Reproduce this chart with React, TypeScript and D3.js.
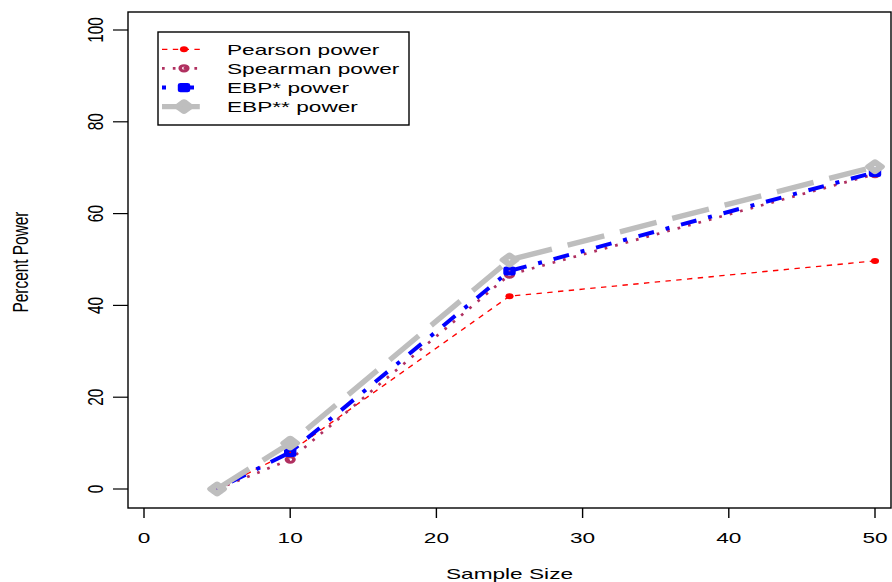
import React from "react";
import * as d3 from "d3";

const sampleSizes = [5, 10, 25, 50];
const pearson = [0, 8.1, 42.0, 49.7];
const spearman = [0, 6.4, 46.7, 68.6];
const ebpStar = [0, 8.0, 47.5, 69.0];
const ebpStarStar = [0, 10.0, 49.9, 70.2];

const xTicks = [0, 10, 20, 30, 40, 50];
const yTicks = [0, 20, 40, 60, 80, 100];
const legendLabels = ["Pearson power", "Spearman power", "EBP* power", "EBP** power"];

const W = 892;
const H = 582;
const SX = 1.47; // horizontal stretch of the reference
const FS = 15.4;
const FONT = "'Liberation Sans', Arial, Helvetica, sans-serif";

type Series = {
  name: string;
  values: number[];
  color: string;
  width: number;
  dash: string;
  marker: "dot" | "circle" | "square" | "diamond";
};

const series: Series[] = [
  { name: legendLabels[0], values: pearson, color: "#FF0000", width: 1.35, dash: "5.4,5.4", marker: "dot" },
  { name: legendLabels[1], values: spearman, color: "#B03060", width: 2.7, dash: "2.7,8.1", marker: "circle" },
  { name: legendLabels[2], values: ebpStar, color: "#0000FF", width: 4, dash: "4,12,16,12", marker: "square" },
  { name: legendLabels[3], values: ebpStarStar, color: "#BEBEBE", width: 5.4, dash: "37.8,16.2", marker: "diamond" },
];

function Marker({ s, x, y }: { s: Series; x: number; y: number }) {
  const t = `translate(${x},${y}) scale(1.35,1)`;
  if (s.marker === "dot") return <circle transform={t} r={3} fill={s.color} />;
  if (s.marker === "circle")
    return <circle transform={t} r={2.8} fill="none" stroke={s.color} strokeWidth={2.7} />;
  if (s.marker === "square")
    return <rect transform={t} x={-2.6} y={-2.6} width={5.2} height={5.2} fill="none" stroke={s.color} strokeWidth={4} strokeLinejoin="round" />;
  return (
    <path transform={t} d="M0,-4.6L4.6,0L0,4.6L-4.6,0Z" fill="none" stroke={s.color} strokeWidth={5.4} strokeLinejoin="round" />
  );
}

export default function App() {
  const x = d3.scaleLinear().domain([0, 50]).range([144, 875]);
  const y = d3.scaleLinear().domain([0, 100]).range([489, 30]);
  const box = { left: 128, right: 891, top: 12, bottom: 508 };

  const line = d3
    .line<[number, number]>()
    .x((d) => x(d[0]))
    .y((d) => y(d[1]));

  const legend = { left: 158, top: 32, right: 409, bottom: 125 };
  const legendRows = [49.3, 68.3, 87.6, 106.6];

  return (
    <svg width={W} height={H} style={{ position: "absolute", left: 0, top: 0, background: "#fff" }} fontFamily={FONT}>
      <rect x={0} y={0} width={W} height={H} fill="#fff" />
      {/* series */}
      {series.map((s) => (
        <g key={s.name}>
          <path
            d={line(sampleSizes.map((n, i) => [n, s.values[i]] as [number, number])) || ""}
            fill="none"
            stroke={s.color}
            strokeWidth={s.width}
            strokeDasharray={s.dash}
            strokeLinecap="butt"
            strokeLinejoin="round"
          />
          {sampleSizes.map((n, i) => (
            <Marker key={i} s={s} x={x(n)} y={y(s.values[i])} />
          ))}
        </g>
      ))}

      {/* plot box */}
      <rect
        x={box.left}
        y={box.top}
        width={box.right - box.left}
        height={box.bottom - box.top}
        fill="none"
        stroke="#000"
        strokeWidth={1.4}
      />

      {/* x axis */}
      {xTicks.map((t) => (
        <g key={t}>
          <line x1={x(t)} x2={x(t)} y1={box.bottom} y2={box.bottom + 10} stroke="#000" strokeWidth={1.4} />
          <text transform={`translate(${x(t)},542.5) scale(${SX},1)`} textAnchor="middle" fontSize={FS} fill="#000">
            {t}
          </text>
        </g>
      ))}
      <text transform={`translate(${(box.left + box.right) / 2},579) scale(${SX},1)`} textAnchor="middle" fontSize={FS} fill="#000">
        Sample Size
      </text>

      {/* y axis */}
      {yTicks.map((t) => (
        <g key={t}>
          <line x1={box.left} x2={box.left - 15} y1={y(t)} y2={y(t)} stroke="#000" strokeWidth={1.2} />
          <text transform={`translate(103,${y(t)}) scale(${SX},1) rotate(-90)`} textAnchor="middle" fontSize={FS} fill="#000">
            {t}
          </text>
        </g>
      ))}
      <text transform={`translate(28,${(box.top + box.bottom) / 2 + 2}) scale(${SX},1) rotate(-90)`} textAnchor="middle" fontSize={FS} fill="#000">
        Percent Power
      </text>

      {/* legend */}
      <rect
        x={legend.left}
        y={legend.top}
        width={legend.right - legend.left}
        height={legend.bottom - legend.top}
        fill="#fff"
        stroke="#000"
        strokeWidth={1.4}
      />
      {series.map((s, i) => (
        <g key={s.name}>
          <line
            x1={162}
            x2={204}
            y1={legendRows[i]}
            y2={legendRows[i]}
            stroke={s.color}
            strokeWidth={s.width}
            strokeDasharray={s.dash}
            strokeLinecap="butt"
          />
          <Marker s={s} x={184} y={legendRows[i]} />
          <text transform={`translate(227,${legendRows[i] + 5.5}) scale(${SX},1)`} fontSize={FS} fill="#000">
            {s.name}
          </text>
        </g>
      ))}
    </svg>
  );
}
